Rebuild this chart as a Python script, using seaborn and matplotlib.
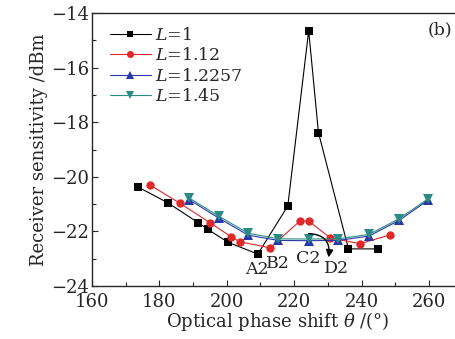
import matplotlib
matplotlib.use("Agg")
import matplotlib.pyplot as plt
import pandas as pd
import seaborn as sns
from matplotlib.ticker import MultipleLocator

# receiver sensitivity vs optical phase shift, panel (b)
theta_l1 = [173.6, 182.5, 191.5, 194.3, 200.4, 209.2, 218.1, 224.3, 227.2, 236.1, 244.9]
sens_l1 = [-20.37, -20.95, -21.68, -21.92, -22.40, -22.83, -21.07, -14.65, -18.38, -22.64, -22.64]

theta_l112 = [177.2, 186.1, 195.0, 201.2, 203.9, 212.8, 221.7, 224.3, 230.6, 239.5, 248.4]
sens_l112 = [-20.30, -20.97, -21.68, -22.19, -22.38, -22.60, -21.62, -21.62, -22.23, -22.45, -22.13]

theta_l12257 = [188.9, 197.7, 206.4, 215.3, 224.3, 233.1, 242.2, 251.1, 259.8]
sens_l12257 = [-20.84, -21.52, -22.14, -22.33, -22.34, -22.33, -22.17, -21.60, -20.85]

theta_l145 = [188.9, 197.7, 206.4, 215.3, 224.3, 233.1, 242.2, 251.1, 259.8]
sens_l145 = [-20.78, -21.45, -22.07, -22.27, -22.28, -22.27, -22.11, -21.54, -20.80]

labels = ["$L$=1", "$L$=1.12", "$L$=1.2257", "$L$=1.45"]
point_labels = ["A2", "B2", "C2", "D2"]
point_pos = [(208.9, -23.41), (215.3, -23.17), (224.2, -22.99), (232.6, -23.35)]

series = [
    (theta_l1, sens_l1, "#000000", "s", 5.5),
    (theta_l112, sens_l112, "#e02828", "o", 6),
    (theta_l12257, sens_l12257, "#2838a8", "^", 6.5),
    (theta_l145, sens_l145, "#2a8c84", "v", 6.5),
]

sns.set_style("ticks")
plt.rcParams["font.family"] = ["DejaVu Serif"]
plt.rcParams["mathtext.fontset"] = "dejavuserif"
plt.rcParams["xtick.direction"] = "in"
plt.rcParams["ytick.direction"] = "in"

fig = plt.figure(figsize=(4.55, 3.39), dpi=100)
ax = fig.add_axes([0.2022, 0.1563, 0.8147, 0.8053])

for (x, y, color, marker, ms), lab in zip(series, labels):
    df = pd.DataFrame({"theta": x, "sens": y})
    sns.lineplot(data=df, x="theta", y="sens", ax=ax, sort=False, color=color,
                 linewidth=0.8, marker=marker, markersize=ms,
                 markeredgewidth=0, label=lab)

for txt, (px, py) in zip(point_labels, point_pos):
    ax.text(px, py, txt, fontsize=12.5, ha="center", va="center")

ax.annotate("", xy=(230.2, -22.95), xytext=(224.3, -22.08),
            arrowprops=dict(arrowstyle="-|>", color="black", lw=1.0,
                            connectionstyle="arc3,rad=-0.55", mutation_scale=11,
                            shrinkA=0, shrinkB=0))

ax.text(266.8, -14.3, "(b)", fontsize=12.5, ha="right", va="top")

ax.set_xlim(160, 270)
ax.set_ylim(-24, -14)
ax.xaxis.set_major_locator(MultipleLocator(20))
ax.xaxis.set_minor_locator(MultipleLocator(10))
ax.yaxis.set_major_locator(MultipleLocator(2))
ax.yaxis.set_minor_locator(MultipleLocator(1))
ax.tick_params(which="major", length=4, width=0.8, labelsize=13)
ax.tick_params(axis="x", pad=5)
ax.tick_params(axis="y", pad=2)
ax.tick_params(which="minor", length=3, width=0.8)
ax.spines["right"].set_visible(False)
for sp in ax.spines.values():
    sp.set_linewidth(1.0)

ax.set_xlabel("Optical phase shift $\\theta$ /(°)", fontsize=13, labelpad=-1)
ax.set_ylabel("Receiver sensitivity /dBm", fontsize=13, labelpad=2)

ax.legend(loc="upper left", bbox_to_anchor=(0.01, 1.0), frameon=False,
          fontsize=12.5, handlelength=2.4, handletextpad=0.2,
          labelspacing=0.2, borderaxespad=0.4, markerscale=0.85)

fig.savefig("out.png", dpi=100)
